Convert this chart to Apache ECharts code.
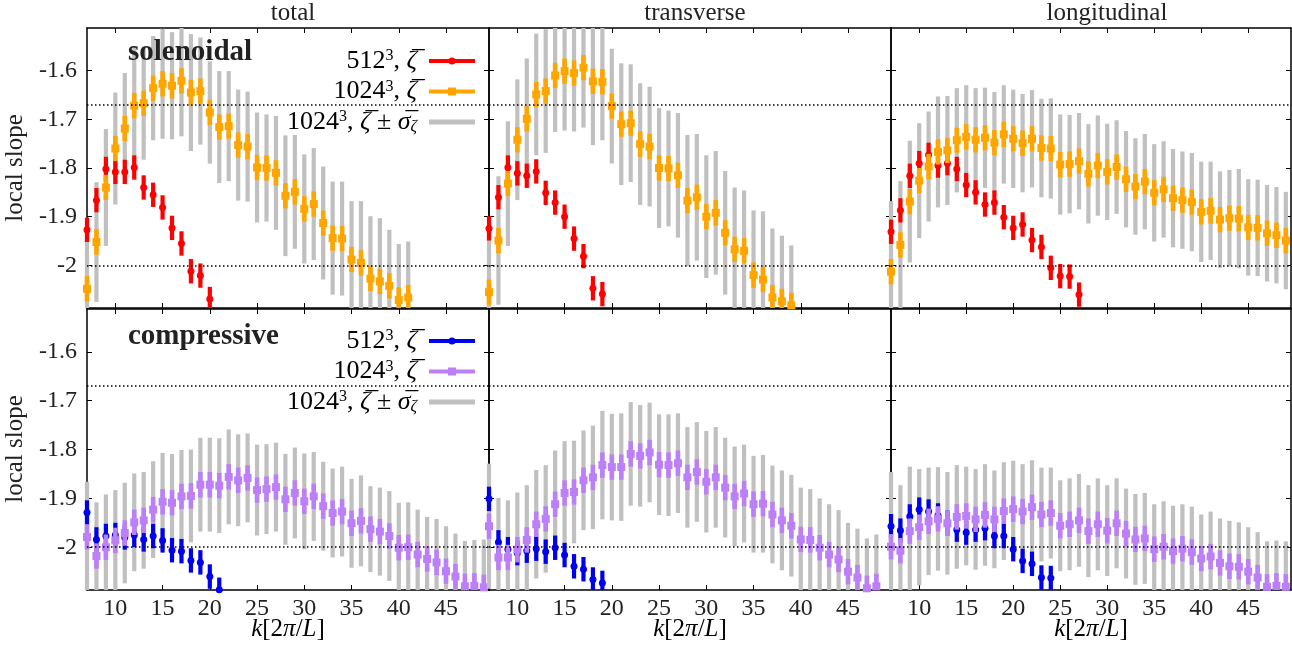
<!DOCTYPE html>
<html>
<head>
<meta charset="utf-8">
<script src="https://cdn.jsdelivr.net/npm/echarts@6/dist/echarts.min.js"></script>
<style>
  html, body { margin: 0; padding: 0; background: #fff; }
  #chart { width: 1292px; height: 648px; }
</style>
</head>
<body>
<div id="chart"></div>
<script>
// k in units of 2pi/L, every series starts at k = 7
var kValues = [7, 8, 9, 10, 11, 12, 13, 14, 15, 16, 17, 18, 19, 20, 21, 22, 23, 24, 25, 26, 27, 28,
  29, 30, 31, 32, 33, 34, 35, 36, 37, 38, 39, 40, 41, 42, 43, 44, 45, 46, 47, 48, 49];
var xTicks = [10, 15, 20, 25, 30, 35, 40, 45];
var yTicks = [-2, -1.9, -1.8, -1.7, -1.6];
var refLines = [-5 / 3, -2];

// half length of the small error bars on the mean
var err512 = 0.025;
var err1024 = 0.026;

// solenoidal, total
var totSol512 = [-1.927, -1.866, -1.802, -1.808, -1.808, -1.799, -1.840, -1.855, -1.881, -1.923, -1.955, -2.012, -2.021, -2.069];
var totSol1024 = [-2.048, -1.952, -1.840, -1.760, -1.719, -1.672, -1.667, -1.636, -1.627, -1.631, -1.621, -1.645, -1.642, -1.686,
  -1.716, -1.714, -1.753, -1.756, -1.799, -1.800, -1.810, -1.857, -1.849, -1.884, -1.874, -1.913, -1.944, -1.945,
  -1.988, -1.995, -2.027, -2.033, -2.042, -2.071, -2.066];
var totSolSigma = [0.12, 0.123, 0.12, 0.115, 0.114, 0.121, 0.116, 0.107, 0.113, 0.11, 0.114, 0.12, 0.11, 0.105,
  0.115, 0.113, 0.114, 0.113, 0.113, 0.11, 0.117, 0.124, 0.117, 0.112, 0.115, 0.116, 0.116, 0.117,
  0.12, 0.127, 0.128, 0.13, 0.115, 0.115, 0.115];

// solenoidal, transverse
var traSol512 = [-1.924, -1.860, -1.799, -1.811, -1.816, -1.807, -1.851, -1.871, -1.900, -1.945, -1.981, -2.047, -2.059];
var traSol1024 = [-2.055, -1.949, -1.832, -1.742, -1.699, -1.649, -1.642, -1.610, -1.601, -1.605, -1.594, -1.622, -1.623, -1.673,
  -1.710, -1.708, -1.751, -1.756, -1.800, -1.801, -1.815, -1.867, -1.860, -1.900, -1.892, -1.933, -1.967, -1.970,
  -2.020, -2.029, -2.066, -2.074, -2.082];
var traSolSigma = [0.13, 0.132, 0.128, 0.124, 0.124, 0.125, 0.127, 0.116, 0.122, 0.12, 0.123, 0.131, 0.12, 0.118,
  0.125, 0.121, 0.125, 0.123, 0.123, 0.119, 0.128, 0.135, 0.13, 0.126, 0.127, 0.127, 0.127, 0.124,
  0.133, 0.14, 0.142, 0.135, 0.123];

// solenoidal, longitudinal
var lonSol512 = [-1.931, -1.887, -1.816, -1.790, -1.773, -1.795, -1.790, -1.802, -1.835, -1.850, -1.875, -1.871, -1.901, -1.923,
  -1.916, -1.948, -1.962, -2.005, -2.022, -2.023, -2.060];
var lonSol1024 = [-2.013, -1.958, -1.869, -1.826, -1.797, -1.767, -1.764, -1.743, -1.736, -1.742, -1.738, -1.748, -1.731, -1.740,
  -1.749, -1.740, -1.759, -1.760, -1.793, -1.792, -1.786, -1.812, -1.795, -1.808, -1.798, -1.823, -1.838, -1.828,
  -1.851, -1.844, -1.862, -1.866, -1.870, -1.890, -1.888, -1.906, -1.903, -1.904, -1.922, -1.923, -1.934, -1.938, -1.949];
var lonSolSigma = [0.145, 0.131, 0.125, 0.118, 0.113, 0.114, 0.112, 0.107, 0.106, 0.106, 0.103, 0.104, 0.101, 0.101,
  0.101, 0.1, 0.101, 0.103, 0.103, 0.101, 0.099, 0.102, 0.103, 0.099, 0.096, 0.099, 0.099, 0.098,
  0.1, 0.099, 0.101, 0.1, 0.101, 0.103, 0.101, 0.099, 0.099, 0.102, 0.099, 0.099, 0.099, 0.099, 0.1];

// compressive, total
var totCom512 = [-1.929, -1.984, -1.977, -1.975, -1.980, -1.975, -1.984, -1.977, -1.986, -2.006, -2.008, -2.027, -2.031, -2.060, -2.087];
var totCom1024 = [-1.979, -2.018, -2.000, -1.986, -1.971, -1.949, -1.945, -1.923, -1.907, -1.909, -1.896, -1.895, -1.872, -1.872,
  -1.874, -1.856, -1.863, -1.858, -1.883, -1.881, -1.877, -1.902, -1.889, -1.906, -1.896, -1.916, -1.930, -1.927,
  -1.951, -1.946, -1.963, -1.968, -1.977, -2.001, -2.000, -2.015, -2.024, -2.031, -2.049, -2.060, -2.080, -2.079, -2.082];
var totComSigma = [0.113, 0.11, 0.108, 0.103, 0.103, 0.1, 0.099, 0.099, 0.1, 0.1, 0.095, 0.095, 0.096, 0.096,
  0.097, 0.097, 0.094, 0.091, 0.093, 0.092, 0.091, 0.093, 0.093, 0.098, 0.091, 0.091, 0.091, 0.092,
  0.091, 0.093, 0.088, 0.09, 0.092, 0.092, 0.092, 0.092, 0.086, 0.089, 0.092, 0.088, 0.093, 0.094, 0.098];

// compressive, transverse
var traCom512 = [-1.901, -1.990, -2.004, -2.012, -2.007, -2.003, -2.009, -2.001, -2.016, -2.039, -2.045, -2.066, -2.073];
var traCom1024 = [-1.957, -2.021, -2.021, -2.005, -1.985, -1.953, -1.942, -1.912, -1.889, -1.887, -1.863, -1.857, -1.832, -1.836,
  -1.836, -1.809, -1.813, -1.806, -1.831, -1.832, -1.828, -1.857, -1.846, -1.866, -1.857, -1.878, -1.896, -1.890,
  -1.912, -1.911, -1.933, -1.945, -1.956, -1.984, -1.985, -2.001, -2.015, -2.025, -2.050, -2.062, -2.084, -2.080];
var traComSigma = [0.128, 0.122, 0.117, 0.117, 0.112, 0.111, 0.11, 0.11, 0.106, 0.105, 0.102, 0.106, 0.111, 0.109,
  0.11, 0.106, 0.104, 0.102, 0.103, 0.104, 0.102, 0.103, 0.102, 0.104, 0.103, 0.102, 0.102, 0.1,
  0.099, 0.1, 0.1, 0.102, 0.104, 0.106, 0.104, 0.101, 0.103, 0.101, 0.1, 0.1, 0.102, 0.106];

// compressive, longitudinal
var lonCom512 = [-1.957, -1.966, -1.937, -1.923, -1.927, -1.935, -1.950, -1.964, -1.970, -1.964, -1.961, -1.977, -1.977, -2.004,
  -2.028, -2.034, -2.062, -2.063];
var lonCom1024 = [-1.999, -2.007, -1.967, -1.959, -1.947, -1.942, -1.951, -1.938, -1.936, -1.943, -1.934, -1.943, -1.926, -1.922,
  -1.927, -1.918, -1.933, -1.930, -1.956, -1.953, -1.945, -1.967, -1.953, -1.966, -1.951, -1.972, -1.984, -1.982,
  -2.004, -1.999, -2.008, -2.003, -2.010, -2.023, -2.019, -2.032, -2.039, -2.040, -2.050, -2.062, -2.081, -2.079, -2.081];
var lonComSigma = [0.153, 0.134, 0.132, 0.119, 0.11, 0.106, 0.105, 0.106, 0.101, 0.103, 0.104, 0.1, 0.1, 0.099,
  0.097, 0.096, 0.096, 0.093, 0.093, 0.094, 0.095, 0.094, 0.094, 0.093, 0.092, 0.092, 0.093, 0.093,
  0.092, 0.093, 0.093, 0.091, 0.093, 0.09, 0.092, 0.091, 0.093, 0.091, 0.091, 0.093, 0.093, 0.093, 0.093];

var FONT = '"Liberation Serif", "DejaVu Serif", serif';
var TXT = '#222';
var RED = '#ff0000', ORANGE = '#ffa500', BLUE = '#0000f0', PURPLE = '#bb80f8', GRAY = '#c0c0c0';

var panels = [
  { row: 0, col: 0, v512: totSol512, v1024: totSol1024, sig: totSolSigma, c512: RED, c1024: ORANGE },
  { row: 0, col: 1, v512: traSol512, v1024: traSol1024, sig: traSolSigma, c512: RED, c1024: ORANGE },
  { row: 0, col: 2, v512: lonSol512, v1024: lonSol1024, sig: lonSolSigma, c512: RED, c1024: ORANGE },
  { row: 1, col: 0, v512: totCom512, v1024: totCom1024, sig: totComSigma, c512: BLUE, c1024: PURPLE },
  { row: 1, col: 1, v512: traCom512, v1024: traCom1024, sig: traComSigma, c512: BLUE, c1024: PURPLE },
  { row: 1, col: 2, v512: lonCom512, v1024: lonCom1024, sig: lonComSigma, c512: BLUE, c1024: PURPLE }
];

var cols = [{ left: 87, width: 402 }, { left: 489, width: 402 }, { left: 891, width: 400 }];
var rows = [{ top: 28, height: 280 }, { top: 309, height: 281 }];

// vertical bar from lo to hi, kept inside the plot vertically
function barRender(color, w) {
  return function (params, api) {
    var cs = params.coordSys;
    var k = api.value(0);
    var yHi = api.coord([k, api.value(2)])[1];
    var yLo = api.coord([k, api.value(1)])[1];
    var x = api.coord([k, api.value(1)])[0];
    var y1 = Math.max(cs.y, yHi), y2 = Math.min(cs.y + cs.height, yLo);
    if (y2 <= y1) return null;
    return { type: 'rect', shape: { x: x - w / 2, y: y1, width: w, height: y2 - y1 }, style: { fill: color } };
  };
}

// mean with error bar and a circle or square marker
function pointRender(color, w, marker, size, err) {
  return function (params, api) {
    var cs = params.coordSys;
    var k = api.value(0), m = api.value(1);
    var c = api.coord([k, m]);
    var yHi = api.coord([k, m + err])[1], yLo = api.coord([k, m - err])[1];
    var y1 = Math.max(cs.y, yHi), y2 = Math.min(cs.y + cs.height, yLo);
    var children = [];
    if (y2 > y1) {
      children.push({ type: 'rect', shape: { x: c[0] - w / 2, y: y1, width: w, height: y2 - y1 }, style: { fill: color } });
    }
    if (c[1] >= cs.y && c[1] <= cs.y + cs.height) {
      if (marker === 'circle') {
        children.push({ type: 'circle', shape: { cx: c[0], cy: c[1], r: size / 2 }, style: { fill: color } });
      } else {
        children.push({ type: 'rect', shape: { x: c[0] - size / 2, y: c[1] - size / 2, width: size, height: size }, style: { fill: color } });
      }
    }
    return { type: 'group', children: children };
  };
}

var grid = [], xAxis = [], yAxis = [], series = [];

panels.forEach(function (p, i) {
  grid.push({ left: cols[p.col].left, width: cols[p.col].width, top: rows[p.row].top, height: rows[p.row].height });

  var axLine = { onZero: false, lineStyle: { color: '#000', width: 1.5 } };
  var xTick = { inside: true, length: 5, customValues: xTicks, lineStyle: { color: '#000', width: 1 } };
  var yTick = { inside: true, length: 5, customValues: yTicks, lineStyle: { color: '#000', width: 1 } };

  xAxis.push({
    gridIndex: i, type: 'value', min: 7, max: 49.55, position: 'bottom',
    axisLine: axLine, axisTick: xTick, splitLine: { show: false },
    axisLabel: { show: p.row === 1, customValues: xTicks, margin: 7, fontSize: 24, fontFamily: FONT, color: TXT }
  });
  xAxis.push({
    gridIndex: i, type: 'value', min: 7, max: 49.55, position: 'top',
    axisLine: axLine, axisTick: xTick, splitLine: { show: false }, axisLabel: { show: false }
  });
  yAxis.push({
    gridIndex: i, type: 'value', min: -2.0875, max: -1.5125, position: 'left',
    axisLine: axLine, axisTick: yTick, splitLine: { show: false },
    axisLabel: {
      show: p.col === 0, customValues: yTicks, margin: 10, fontSize: 24, fontFamily: FONT, color: TXT,
      formatter: function (v) { return Math.abs(v + 2) < 1e-9 ? '-2' : v.toFixed(1); }
    }
  });
  yAxis.push({
    gridIndex: i, type: 'value', min: -2.0875, max: -1.5125, position: 'right',
    axisLine: axLine, axisTick: yTick, splitLine: { show: false }, axisLabel: { show: false }
  });

  var xi = 2 * i, yi = 2 * i;
  series.push({
    type: 'custom', xAxisIndex: xi, yAxisIndex: yi, renderItem: barRender(GRAY, 4.2),
    data: p.v1024.map(function (v, j) { return [kValues[j], v - p.sig[j], v + p.sig[j]]; })
  });
  series.push({
    type: 'custom', xAxisIndex: xi, yAxisIndex: yi, renderItem: pointRender(p.c512, 4.2, 'circle', 7, err512),
    data: p.v512.map(function (v, j) { return [kValues[j], v]; })
  });
  series.push({
    type: 'custom', xAxisIndex: xi, yAxisIndex: yi, renderItem: pointRender(p.c1024, 4.6, 'square', 8, err1024),
    data: p.v1024.map(function (v, j) { return [kValues[j], v]; })
  });
  series.push({
    type: 'line', xAxisIndex: xi, yAxisIndex: yi, data: [], z: 5,
    markLine: {
      silent: true, symbol: 'none', label: { show: false },
      lineStyle: { color: '#000', type: [1.5, 2.5], width: 1.5 },
      data: refLines.map(function (v) { return { yAxis: v }; })
    }
  });
});

var rich = {
  n: { fontFamily: FONT, fontSize: 26, color: TXT },
  i: { fontFamily: FONT, fontSize: 26, fontStyle: 'italic', color: TXT },
  s: { fontFamily: FONT, fontSize: 16, color: TXT, verticalAlign: 'top' },
  b: { fontFamily: FONT, fontSize: 16, fontStyle: 'italic', color: TXT, verticalAlign: 'bottom' }
};
var zetaBar = '\u03B6\u0305', sigmaBar = '\u03C3\u0305';
var legendTexts = [
  '{n|512}{s|3}{n|, }{i|' + zetaBar + '}',
  '{n|1024}{s|3}{n|, }{i|' + zetaBar + '}',
  '{n|1024}{s|3}{n|, }{i|' + zetaBar + '}{n| \u00B1 }{i|' + sigmaBar + '}{b|\u03B6}'
];

function legend(y0, c512, c1024) {
  var rowsY = [y0, y0 + 30.5, y0 + 61];
  var els = [];
  rowsY.forEach(function (y, r) {
    els.push({ type: 'text', z: 100, x: 417, y: y, style: { text: legendTexts[r], rich: rich, align: 'right', verticalAlign: 'middle' } });
  });
  els.push({ type: 'rect', z: 100, shape: { x: 429, y: rowsY[0] - 2, width: 46, height: 4 }, style: { fill: c512 } });
  els.push({ type: 'circle', z: 100, shape: { cx: 452, cy: rowsY[0], r: 3.6 }, style: { fill: c512 } });
  els.push({ type: 'rect', z: 100, shape: { x: 429, y: rowsY[1] - 2, width: 46, height: 4 }, style: { fill: c1024 } });
  els.push({ type: 'rect', z: 100, shape: { x: 448, y: rowsY[1] - 4, width: 8, height: 8 }, style: { fill: c1024 } });
  els.push({ type: 'rect', z: 100, shape: { x: 429, y: rowsY[2] - 2.5, width: 46, height: 5 }, style: { fill: GRAY } });
  return els;
}

var axisTitle = '{i|k}{n|[2}{i|\u03C0}{n|/}{i|L}{n|]}';
var titleRich = {
  n: { fontFamily: FONT, fontSize: 25, color: TXT },
  i: { fontFamily: FONT, fontSize: 25, fontStyle: 'italic', color: TXT }
};

var graphic = [
  { type: 'text', x: 293, y: 13, style: { text: 'total', font: '25px ' + FONT, fill: TXT, align: 'center', verticalAlign: 'middle' } },
  { type: 'text', x: 695, y: 13, style: { text: 'transverse', font: '25px ' + FONT, fill: TXT, align: 'center', verticalAlign: 'middle' } },
  { type: 'text', x: 1107, y: 13, style: { text: 'longitudinal', font: '25px ' + FONT, fill: TXT, align: 'center', verticalAlign: 'middle' } },
  { type: 'text', x: 15, y: 168, rotation: Math.PI / 2, style: { text: 'local slope', font: '25px ' + FONT, fill: TXT, align: 'center', verticalAlign: 'middle' } },
  { type: 'text', x: 15, y: 449, rotation: Math.PI / 2, style: { text: 'local slope', font: '25px ' + FONT, fill: TXT, align: 'center', verticalAlign: 'middle' } },
  { type: 'text', z: 100, x: 128, y: 53, style: { text: 'solenoidal', font: 'bold 29px ' + FONT, fill: '#222', align: 'left', verticalAlign: 'middle' } },
  { type: 'text', z: 100, x: 128, y: 337, style: { text: 'compressive', font: 'bold 29px ' + FONT, fill: '#222', align: 'left', verticalAlign: 'middle' } },
  { type: 'text', x: 288, y: 629, style: { text: axisTitle, rich: titleRich, align: 'center', verticalAlign: 'middle' } },
  { type: 'text', x: 690, y: 629, style: { text: axisTitle, rich: titleRich, align: 'center', verticalAlign: 'middle' } },
  { type: 'text', x: 1091, y: 629, style: { text: axisTitle, rich: titleRich, align: 'center', verticalAlign: 'middle' } }
].concat(legend(61, RED, ORANGE)).concat(legend(341, BLUE, PURPLE));

var chart = echarts.init(document.getElementById('chart'));
chart.setOption({
  animation: false,
  backgroundColor: '#fff',
  grid: grid,
  xAxis: xAxis,
  yAxis: yAxis,
  series: series,
  graphic: graphic
});
</script>
</body>
</html>
